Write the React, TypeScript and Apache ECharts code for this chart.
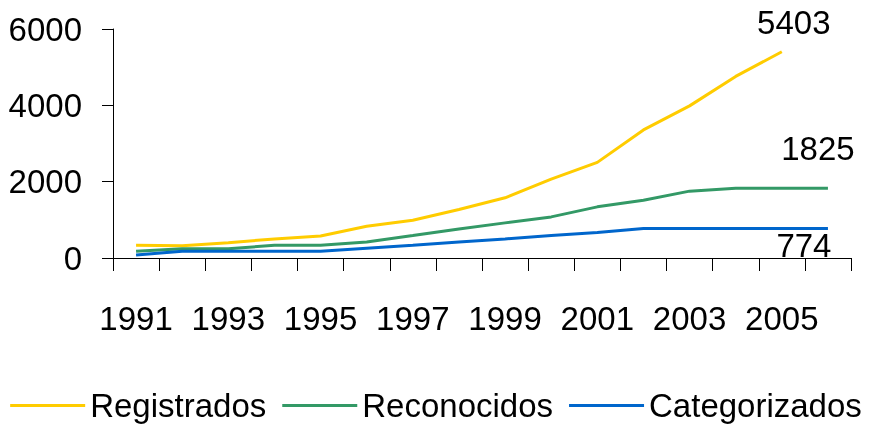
import React, { useEffect, useRef } from "react";
import * as echarts from "echarts";

const years = ["1991","1992","1993","1994","1995","1996","1997","1998","1999","2000","2001","2002","2003","2004","2005","2006"];
const registrados = [333, 320, 400, 500, 578, 832, 990, 1270, 1577, 2067, 2505, 3355, 3986, 4757, 5403, null];
const reconocidos = [175, 245, 245, 333, 333, 420, 587, 762, 920, 1077, 1340, 1515, 1752, 1825, 1825, 1825];
const categorizados = [79, 175, 175, 175, 175, 254, 333, 420, 500, 587, 666, 774, 774, 774, 774, 774];
const yTicks = [0, 2000, 4000, 6000];

const FONT = "'Liberation Sans', Arial, sans-serif";
const FS = 33;

function withEndLabel(values: (number | null)[], idx: number, offset: number[], position: string) {
  return values.map((v, i) =>
    i === idx
      ? { value: v, label: { show: true, position, offset, fontSize: FS, fontFamily: FONT, color: "#000", formatter: "{c}" } }
      : v
  );
}

export default function App() {
  const ref = useRef<HTMLDivElement>(null);
  useEffect(() => {
    const chart = echarts.init(ref.current!, null, { renderer: "svg" });
    const lineSeries = (name: string, color: string, data: any[]) => ({
      name,
      type: "line",
      data,
      showSymbol: true,
      symbol: "circle",
      symbolSize: 0,
      label: { show: false },
      lineStyle: { color, width: 3 },
      itemStyle: { color },
    });
    chart.setOption({
      animation: false,
      textStyle: { fontFamily: FONT },
      grid: { left: 113, right: 21, top: 29, bottom: 171 },
      legend: {
        bottom: 2,
        left: "center",
        icon: "rect",
        itemWidth: 75,
        itemHeight: 3,
        itemGap: 16,
        textStyle: { fontSize: FS, color: "#000", fontFamily: FONT },
        data: ["Registrados", "Reconocidos", "Categorizados"],
      },
      xAxis: {
        type: "category",
        data: years,
        boundaryGap: true,
        axisLine: { lineStyle: { color: "#000", width: 1 } },
        axisTick: { show: true, length: 13, inside: false, interval: 0, lineStyle: { color: "#000" } },
        axisLabel: { interval: 1, margin: 44, fontSize: FS, color: "#000", fontFamily: FONT },
        splitLine: { show: false },
      },
      yAxis: {
        type: "value",
        min: yTicks[0],
        max: yTicks[yTicks.length - 1],
        interval: 2000,
        axisLine: { show: true, lineStyle: { color: "#000", width: 1 } },
        axisTick: { show: true, length: 11, lineStyle: { color: "#000" } },
        axisLabel: { margin: 31, fontSize: FS, color: "#000", fontFamily: FONT, formatter: (v: number) => String(v) },
        splitLine: { show: false },
      },
      series: [
        lineSeries("Registrados", "#FFCC00", withEndLabel(registrados, 14, [12, -8], "top")),
        lineSeries("Reconocidos", "#339966", withEndLabel(reconocidos, 15, [-10, -18], "top")),
        lineSeries("Categorizados", "#0066CC", withEndLabel(categorizados, 15, [-24, -4], "bottom")),
      ],
    });
    return () => chart.dispose();
  }, []);
  return <div ref={ref} style={{ position: "fixed", left: 0, top: 0, width: 872, height: 429 }} />;
}
